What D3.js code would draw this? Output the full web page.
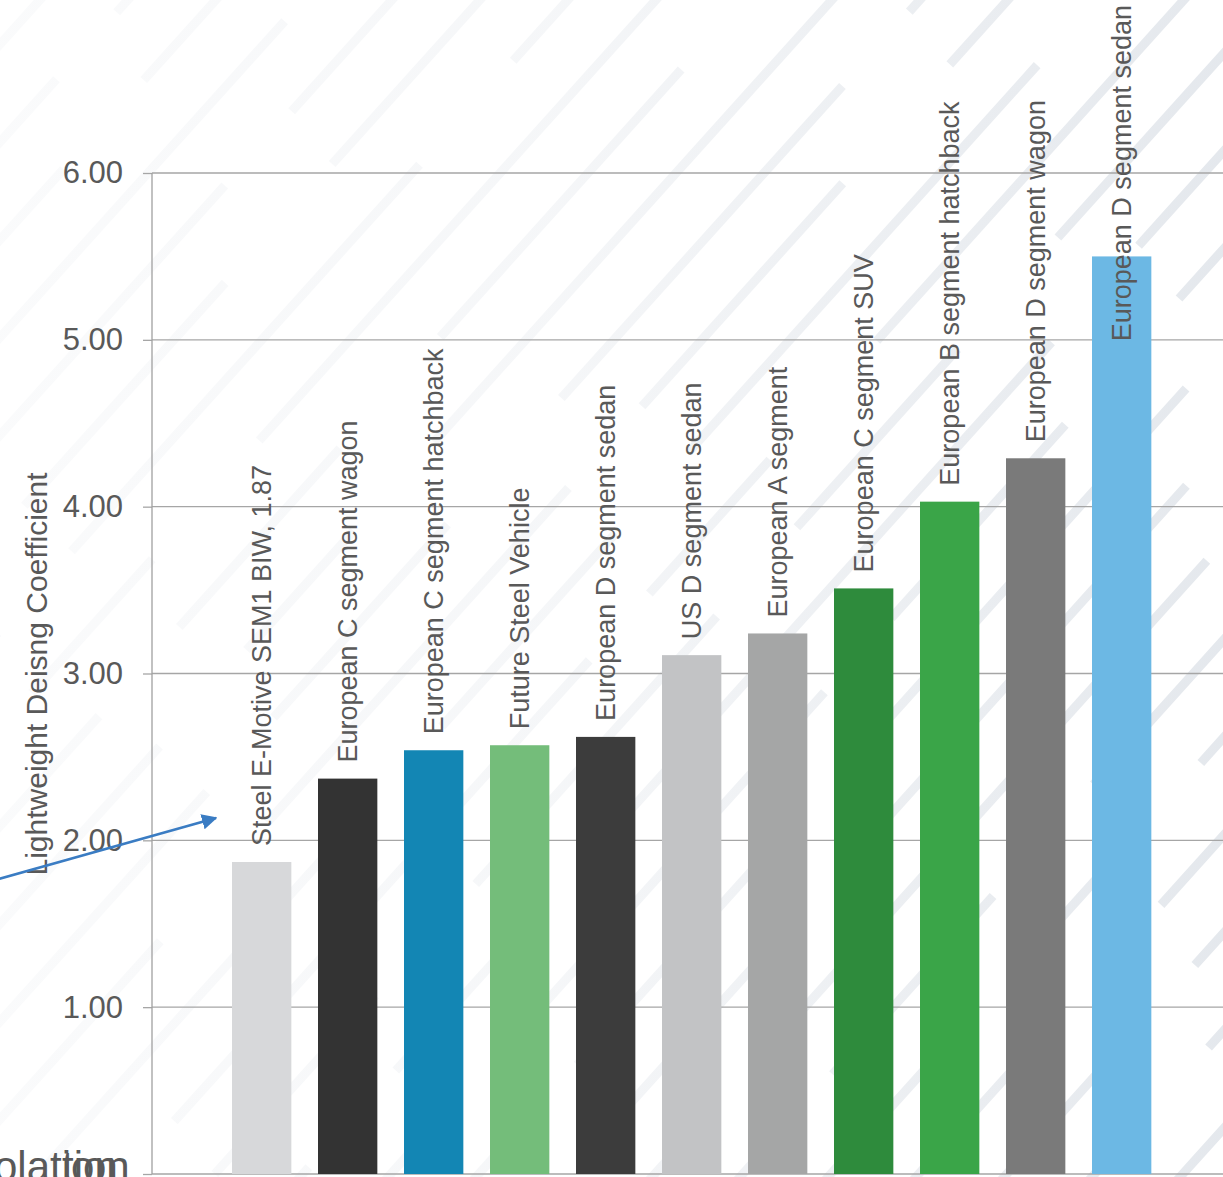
<!DOCTYPE html>
<html><head><meta charset="utf-8">
<script src="https://cdn.jsdelivr.net/npm/d3@7"></script>
<style>
html,body{margin:0;padding:0;background:#fff;overflow:hidden;}
svg{display:block;font-family:"Liberation Sans",Arial,sans-serif;}
</style></head>
<body>
<svg id="chart" width="1223" height="1177"></svg>
<script>
const categories = [
  "Steel E-Motive SEM1 BIW, 1.87",
  "European C segment wagon",
  "European C segment hatchback",
  "Future Steel Vehicle",
  "European D segment sedan",
  "US D segment sedan",
  "European A segment",
  "European C segment SUV",
  "European B segment hatchback",
  "European D segment wagon",
  "European D segment sedan"
];
const values = [1.87, 2.37, 2.54, 2.57, 2.62, 3.11, 3.24, 3.51, 4.03, 4.29, 5.50];
const colors = ["#d7d8da","#333333","#1386b4","#74bd7a","#3c3c3c","#c2c3c5","#a5a6a6","#2e8b3c","#3aa548","#7a7a7a","#6cb8e4"];
const tickValues = [0, 1, 2, 3, 4, 5, 6];
const yTitle = "Lightweight Deisng Coefficient";

const W = 1223, H = 1177;
const svg = d3.select("#chart");

// decorative diagonal stripes background
const defs = svg.append("defs");
const grad = defs.append("linearGradient").attr("id","sg").attr("gradientUnits","userSpaceOnUse")
  .attr("x1",0).attr("y1",0).attr("x2",W).attr("y2",0);
grad.append("stop").attr("offset","0").attr("stop-color","#e3e7ec").attr("stop-opacity",0.18);
grad.append("stop").attr("offset","0.45").attr("stop-color","#e3e7ec").attr("stop-opacity",0.35);
grad.append("stop").attr("offset","0.75").attr("stop-color","#e3e7ec").attr("stop-opacity",0.7);
grad.append("stop").attr("offset","1").attr("stop-color","#e3e7ec").attr("stop-opacity",0.95);
const stripes = svg.append("g");
const ang = 48 * Math.PI / 180;
const dx = Math.cos(ang), dy = -Math.sin(ang);
const dashSets = [[520,140,260,110],[180,160,620,90],[360,120,240,150],[700,130,160,120],[260,170,420,100],[450,110,300,160]];
for (let i = -16; i < 24; i++) {
  const sx = i * 88;
  const sy = H + 40;
  const L = 2400;
  stripes.append("line")
    .attr("x1", sx).attr("y1", sy)
    .attr("x2", sx + dx * L).attr("y2", sy + dy * L)
    .attr("stroke","url(#sg)").attr("stroke-width",9)
    .attr("stroke-dasharray", dashSets[((i % 6) + 6) % 6].join(","))
    .attr("stroke-dashoffset", ((i * 211) % 700 + 700) % 700);
}

const y = d3.scaleLinear().domain([0, 6]).range([1174, 173]);
const step = 86, pad = 0.31;
const bx0 = 232 - step * pad / 2;
const x = d3.scaleBand().domain(d3.range(categories.length))
  .range([bx0, bx0 + step * categories.length]).paddingInner(pad).paddingOuter(pad / 2);

// ticks + labels
const axis = d3.axisLeft(y).tickValues(tickValues).tickSize(9)
  .tickFormat(d => d === 0 ? "" : d3.format(".2f")(d));
const ag = svg.append("g").attr("transform","translate(152,0)").call(axis);
ag.select(".domain").remove();
ag.selectAll(".tick line").attr("stroke","#a6a6a6").attr("stroke-width",1.3);
ag.selectAll(".tick text").attr("fill","#595959").attr("font-size",31).attr("x",-29)
  .attr("font-family","Liberation Sans, Arial, sans-serif");
// gridlines
svg.append("g").selectAll("line").data(tickValues).join("line")
  .attr("x1",152).attr("x2",W).attr("y1",d=>y(d)).attr("y2",d=>y(d))
  .attr("stroke","#a6a6a6").attr("stroke-width",1.3);
svg.append("line").attr("x1",152).attr("x2",152).attr("y1",y(6)).attr("y2",y(0))
  .attr("stroke","#a0a0a0").attr("stroke-width",1.3);

// bars
svg.append("g").selectAll("rect").data(values).join("rect")
  .attr("x",(d,i)=>x(i)).attr("width",x.bandwidth())
  .attr("y",d=>y(d)).attr("height",d=>y(0)-y(d))
  .attr("fill",(d,i)=>colors[i]);

// labels
const lg = svg.append("g");
categories.forEach((c,i)=>{
  const cx = x(i) + x.bandwidth()/2;
  const t = lg.append("text").text(c)
    .attr("font-size",27).attr("fill","#595959").attr("dy","0.35em");
  const len = t.node().getComputedTextLength();
  let yy = y(values[i]) - 16;
  if (yy - len < 5) yy = 5 + len;
  t.attr("transform",`translate(${cx},${yy}) rotate(-90)`);
});

// y title
svg.append("text").text(yTitle)
  .attr("transform","translate(36,674) rotate(-90)")
  .attr("text-anchor","middle").attr("dy","0.35em")
  .attr("font-size",30).attr("fill","#595959");

// arrow
defs.append("marker").attr("id","ah").attr("viewBox","0 0 10 10")
  .attr("refX",9).attr("refY",5).attr("markerWidth",6).attr("markerHeight",6)
  .attr("orient","auto").attr("markerUnits","strokeWidth")
  .append("path").attr("d","M0,0 L10,5 L0,10 z").attr("fill","#3a7cc3");
svg.append("line").attr("x1",-5).attr("y1",880).attr("x2",216).attr("y2",818)
  .attr("stroke","#3a7cc3").attr("stroke-width",2.6).attr("marker-end","url(#ah)");

// clipped annotation text at bottom-left (overlapping, as in the original)
svg.append("text").text("olation").attr("x",-6).attr("y",1181)
  .attr("font-size",42).attr("fill","#595959");
svg.append("text").text("tion").attr("x",62).attr("y",1181)
  .attr("font-size",42).attr("fill","#595959");
</script>
</body></html>
